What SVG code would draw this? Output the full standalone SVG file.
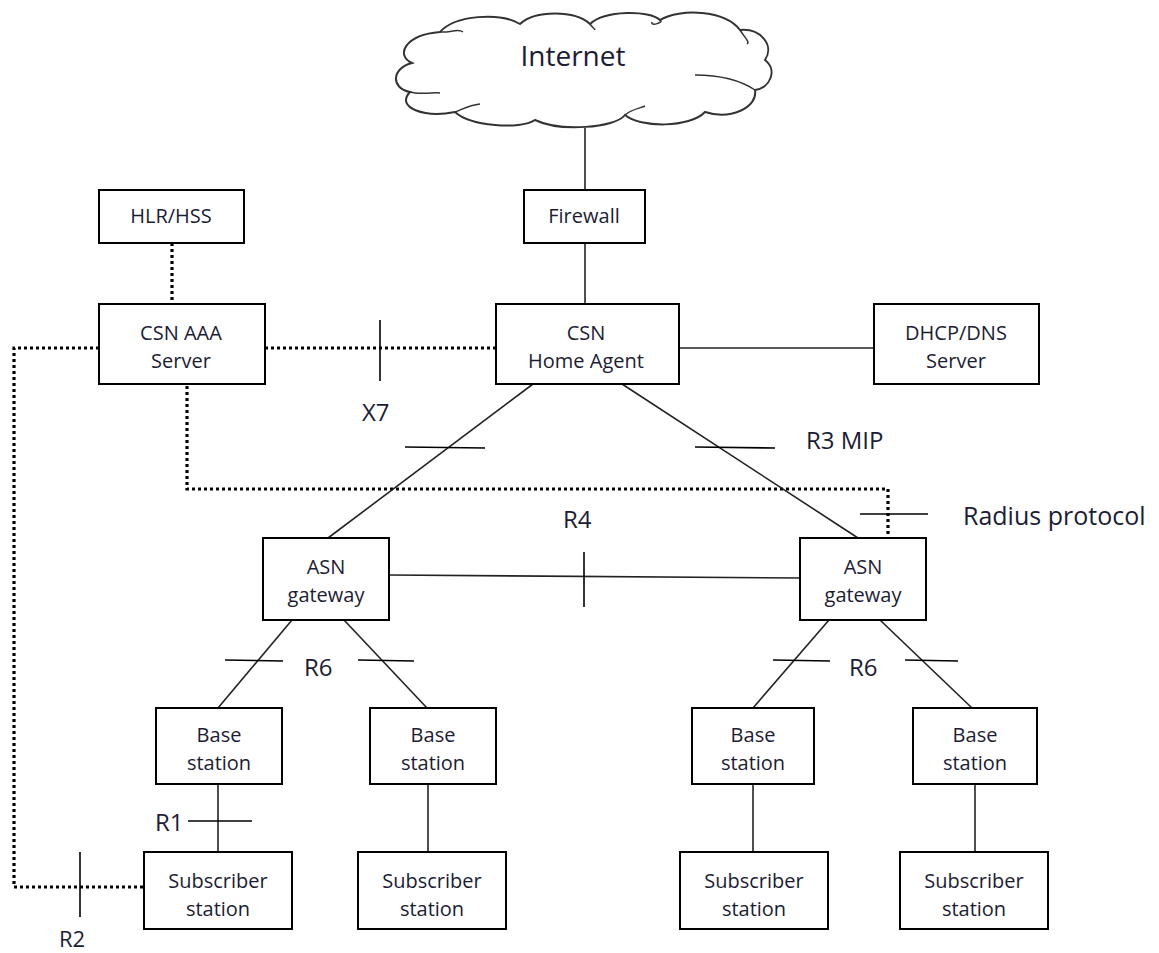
<svg xmlns="http://www.w3.org/2000/svg" width="1159" height="953" viewBox="0 0 1159 953">
<style>
.box{fill:#fff;stroke:#000;stroke-width:2}
.t{font-family:"Open Sans","Liberation Sans",sans-serif;font-size:20px;fill:#1c1c34;text-anchor:middle}
.lbl{font-family:"Open Sans","Liberation Sans",sans-serif;font-size:24px;fill:#1c1c34}
.ln{stroke:#222;stroke-width:1.6;fill:none}
.dot{stroke:#000;stroke-width:3.2;stroke-dasharray:3 3;fill:none}
.tk{stroke:#000;stroke-width:1.6;fill:none}
</style>
<rect width="1159" height="953" fill="#fff"/>
<g id="connectors">
<line class="ln" x1="585" y1="128" x2="585" y2="190"/>
<line class="ln" x1="585" y1="243" x2="585" y2="304"/>
<line class="ln" x1="679" y1="348" x2="874" y2="348"/>
<line class="dot" x1="172" y1="243" x2="172" y2="304"/>
<line class="dot" x1="265" y1="348" x2="496" y2="348"/>
<line class="tk" x1="380" y1="320" x2="380" y2="381"/>
<polyline class="dot" points="99,348 14,348 14,887 144,887"/>
<line class="tk" x1="80" y1="852" x2="80" y2="917"/>
<polyline class="dot" points="187,386 187,489 888,489 888,538"/>
<line class="tk" x1="860" y1="514" x2="928" y2="514"/>
<line class="ln" x1="533" y1="384" x2="328" y2="538"/>
<line class="tk" x1="405" y1="447" x2="485" y2="448"/>
<line class="ln" x1="622" y1="384" x2="858" y2="538"/>
<line class="tk" x1="695" y1="447" x2="775" y2="448"/>
<line class="ln" x1="389" y1="575" x2="800" y2="578" stroke="#555"/>
<line class="tk" x1="584" y1="552" x2="584" y2="607"/>
<line class="ln" x1="292" y1="620" x2="218" y2="708"/>
<line class="tk" x1="225" y1="660" x2="283" y2="661"/>
<line class="ln" x1="344" y1="620" x2="427" y2="708"/>
<line class="tk" x1="358" y1="660" x2="414" y2="661"/>
<line class="ln" x1="829" y1="620" x2="753" y2="708"/>
<line class="tk" x1="773" y1="660" x2="830" y2="661"/>
<line class="ln" x1="880" y1="620" x2="972" y2="708"/>
<line class="tk" x1="905" y1="660" x2="958" y2="661"/>
<line class="ln" x1="218" y1="784" x2="218" y2="852"/>
<line class="tk" x1="188" y1="821" x2="252" y2="821"/>
<line class="ln" x1="428" y1="784" x2="428" y2="852"/>
<line class="ln" x1="753" y1="784" x2="753" y2="852"/>
<line class="ln" x1="975" y1="784" x2="975" y2="852"/>
</g>
<g id="labels">
<text class="lbl" x="362" y="421">X7</text>
<text class="lbl" x="806" y="449">R3 MIP</text>
<text class="lbl" x="963" y="525" style="font-size:25px">Radius protocol</text>
<text class="lbl" x="563" y="528">R4</text>
<text class="lbl" x="304" y="676">R6</text>
<text class="lbl" x="849" y="676">R6</text>
<text class="lbl" x="155" y="831">R1</text>
<text class="lbl" x="59" y="947" style="font-size:22px">R2</text>
</g>
<g id="internet">
<path fill="#fff" stroke="#333" stroke-width="2" d="M440,32 C455,15 500,12 520,24 C535,10 575,10 590,24 C605,10 650,10 660,20 C680,8 725,10 740,30 C760,28 775,45 765,60 C778,70 770,88 755,90 C758,108 730,120 705,112 C690,128 640,128 625,115 C615,128 560,132 535,120 C520,130 470,126 455,112 C425,118 395,108 410,92 C390,88 392,68 412,63 C395,55 405,35 440,32 Z"/>
<path fill="none" stroke="#333" stroke-width="1.5" d="M440,32 C450,33 458,28 463,32 M590,24 C592,27 595,29 595,30 M660,20 C665,22 650,27 652,22 M740,30 C745,38 750,42 747,44 M755,90 C740,80 720,75 695,75 M625,115 C630,110 640,108 645,106 M455,112 C465,108 470,105 480,104 M410,92 C420,95 435,92 440,93"/>
<text class="t" x="573" y="66" style="font-size:28px">Internet</text>
</g>
<g id="hlr"><rect class="box" x="99" y="190" width="145" height="53"/><text class="t" x="171" y="223">HLR/HSS</text></g>
<g id="firewall"><rect class="box" x="524" y="190" width="121" height="53"/><text class="t" x="584" y="223">Firewall</text></g>
<g id="aaa"><rect class="box" x="99" y="304" width="166" height="80"/><text class="t" x="181" y="340">CSN AAA</text><text class="t" x="181" y="368">Server</text></g>
<g id="ha"><rect class="box" x="496" y="304" width="183" height="80"/><text class="t" x="586" y="340">CSN</text><text class="t" x="586" y="368">Home Agent</text></g>
<g id="dhcp"><rect class="box" x="874" y="304" width="165" height="80"/><text class="t" x="956" y="340">DHCP/DNS</text><text class="t" x="956" y="368">Server</text></g>
<g id="asn1"><rect class="box" x="263" y="538" width="126" height="82"/><text class="t" x="326" y="574">ASN</text><text class="t" x="326" y="602">gateway</text></g>
<g id="asn2"><rect class="box" x="800" y="538" width="126" height="82"/><text class="t" x="863" y="574">ASN</text><text class="t" x="863" y="602">gateway</text></g>
<g id="bs1"><rect class="box" x="156" y="708" width="126" height="76"/><text class="t" x="219" y="742">Base</text><text class="t" x="219" y="770">station</text></g>
<g id="bs2"><rect class="box" x="370" y="708" width="126" height="76"/><text class="t" x="433" y="742">Base</text><text class="t" x="433" y="770">station</text></g>
<g id="bs3"><rect class="box" x="692" y="708" width="122" height="76"/><text class="t" x="753" y="742">Base</text><text class="t" x="753" y="770">station</text></g>
<g id="bs4"><rect class="box" x="913" y="708" width="124" height="76"/><text class="t" x="975" y="742">Base</text><text class="t" x="975" y="770">station</text></g>
<g id="ss1"><rect class="box" x="144" y="852" width="148" height="77"/><text class="t" x="218" y="888">Subscriber</text><text class="t" x="218" y="916">station</text></g>
<g id="ss2"><rect class="box" x="358" y="852" width="148" height="77"/><text class="t" x="432" y="888">Subscriber</text><text class="t" x="432" y="916">station</text></g>
<g id="ss3"><rect class="box" x="680" y="852" width="148" height="77"/><text class="t" x="754" y="888">Subscriber</text><text class="t" x="754" y="916">station</text></g>
<g id="ss4"><rect class="box" x="900" y="852" width="148" height="77"/><text class="t" x="974" y="888">Subscriber</text><text class="t" x="974" y="916">station</text></g>
</svg>
